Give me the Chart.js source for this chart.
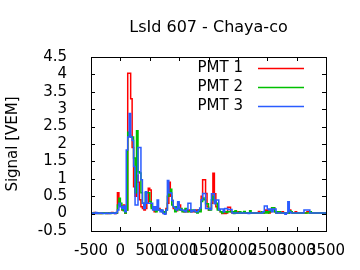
<!DOCTYPE html>
<html lang="en">
<head>
  <meta charset="UTF-8">
  <title>LsId 607 - Chaya-co</title>
  <script src="https://cdn.jsdelivr.net/npm/chart.js"></script>
  <style>
    html, body { margin: 0; padding: 0; background: #ffffff; }
    #wrap { width: 360px; height: 270px; }
  </style>
</head>
<body>
  <div id="wrap"><canvas id="traceChart" width="360" height="270"></canvas></div>

  <script>
    // trace binning (ns)
    const binStart = -500;
    const binWidth = 25;

    // signal per bin [VEM]
    const pmt1 = [
      0.02, 0, 0.01, 0.03, 0, 0.02, 0.01, 0, 0.02, 0.01,
      0.01, 0.02, 0, 0.02, 0.01, 0.03, 0.01, 0, 0.02, 0.6,
      0.3, 0.22, 0.1, 0.25, 0.02, 0.1, 4.03, 4.03, 3.3, 1.9,
      0.77, 0.5, 1.1, 0.9, 0.4, 0.2, 0.15, 0.1, 0.15, 0.3,
      0.73, 0.68, 0.2, 0.15, 0.05, 0.12, 0.1, 0.15, 0.1, 0.08,
      0.02, 0, 0.15, 0.3, 0.9, 0.5, 0.38, 0.15, 0.1, 0.08,
      0.3, 0.25, 0.1, 0.08, 0.05, 0.1, 0.05, 0.08, 0.1, 0.05,
      0.05, 0.05, 0.1, 0.08, 0.1, 0.1, 0.5, 0.97, 0.97, 0.58,
      0.2, 0.1, 0.15, 0.3, 1.16, 0.57, 0.2, 0.15, 0.1, 0.05,
      0, 0.05, 0, 0.02, 0.18, 0.18, 0.05, 0.02, 0.02, 0.02,
      0.02, 0.05, 0.02, 0.02, 0.02, 0.02, 0.02, 0.02, 0.02, 0.02,
      0.02, 0.02, 0.02, 0.02, 0.02, 0.06, 0.02, 0.02, 0.02, 0.05,
      0.1, 0.08, 0.02, 0.05, 0.17, 0.17, 0.05, 0.02, 0.02, 0.02,
      0.02, 0.05, 0.02, 0.02, 0.02, 0.02, 0.1, 0.05, 0.02, 0.02,
      0.05, 0.02, 0.02, 0.02, 0.02, 0.02, 0.02, 0.02, 0.05, 0.05,
      0.02, 0.02, 0.02, 0.02, 0.02, 0.02, 0.02, 0.02, 0.02, 0.02
    ];
    const pmt2 = [
      0, 0.01, 0.02, 0, 0.01, 0.02, 0, 0.01, 0, 0.02,
      0.02, 0, 0.01, 0.02, 0, 0.01, 0.02, 0.01, 0.02, 0.25,
      0.44, 0.3, 0.12, 0.08, 0.02, 0.1, 2.34, 2.25, 2.2, 2.2,
      1.6, 0.6, 2.38, 1.2, 1.17, 0.6, 0.3, 0.2, 0.6, 0.6,
      0.6, 0.35, 0.15, 0.15, 0.1, 0.05, 0.15, 0.1, 0.1, 0.05,
      0.05, 0.02, 0.1, 0.5, 0.59, 0.7, 0.25, 0.2, 0.05, 0.2,
      0.15, 0.1, 0.15, 0.05, 0.05, 0.15, 0.1, 0.05, 0.05, 0.1,
      0.1, 0.08, 0.05, 0.02, 0.1, 0.05, 0.35, 0.45, 0.4, 0.28,
      0.28, 0.1, 0.1, 0.4, 0.5, 0.35, 0.3, 0.1, 0.1, 0.05,
      0.02, 0.05, 0.05, 0.03, 0.05, 0.05, 0.05, 0.05, 0, 0.08,
      0.02, 0.02, 0.05, 0.02, 0.03, 0.06, 0.02, 0.02, 0.02, 0.08,
      0.02, 0.02, 0.02, 0.02, 0.02, 0.02, 0.02, 0.05, 0.02, 0.02,
      0.05, 0.02, 0.05, 0.08, 0.17, 0.17, 0.05, 0.02, 0.05, 0.05,
      0.02, 0.02, 0.02, 0.02, 0.02, 0.02, 0.08, 0.05, 0.02, 0.02,
      0.02, 0.02, 0.02, 0.02, 0.02, 0.02, 0.02, 0.02, 0.02, 0.02,
      0.05, 0.02, 0.02, 0.02, 0.02, 0.02, 0.02, 0.02, 0.02, 0.02
    ];
    const pmt3 = [
      0.01, 0.02, 0, 0.01, 0.03, 0, 0.02, 0.01, 0.02, 0,
      0, 0.02, 0.01, 0, 0.02, 0.01, 0.02, 0, 0.03, 0.1,
      0.3, 0.2, 0.15, 0.22, 0.05, 1.83, 2.2, 2.88, 2.2, 2.1,
      1.35, 0.25, 0.25, 1.9, 1.9, 0.97, 0.3, 0.15, 0.63, 0.3,
      0.3, 0.3, 0.3, 0.1, 0.2, 0.1, 0.39, 0.1, 0.05, 0.1,
      0, -0.02, 0.1, 0.95, 0.6, 0.59, 0.38, 0.2, 0.15, 0.1,
      0.34, 0.15, 0.1, 0.1, 0.08, 0.05, 0.12, 0.3, 0.3, 0.05,
      0.08, 0.1, 0.05, 0.05, 0.1, 0.16, 0.4, 0.58, 0.58, 0.15,
      0.15, 0.15, 0.12, 0.57, 0.57, 0.28, 0.39, 0.39, 0.1, 0.13,
      0.13, 0.05, 0.15, 0.15, 0.12, 0.12, 0.12, 0.02, 0.02, 0.02,
      0.02, 0.02, 0.02, 0.02, 0.02, 0.02, 0.02, 0.02, 0, 0.02,
      0.02, 0.02, 0.02, 0.02, 0.02, 0.02, 0.02, 0.02, 0.05, 0.22,
      0.22, 0.13, 0.1, 0.13, 0.05, 0.13, 0.13, 0.02, 0.02, 0.02,
      0.02, 0.02, 0.02, -0.02, 0.02, 0.34, 0.05, 0.02, 0.02, 0.02,
      0.02, 0.02, 0.02, 0.02, 0.02, 0.02, 0.1, 0.1, 0.1, 0.1,
      0.02, 0.02, 0.02, 0.02, 0.02, 0.02, 0.02, 0.02, 0.02, 0.02
    ];

    const seriesNames = ['PMT 1', 'PMT 2', 'PMT 3'];
    const seriesColors = ['#ff0000', '#00c000', '#2a5cff'];
    const xTicks = [-500, 0, 500, 1000, 1500, 2000, 2500, 3000, 3500];
    const yTicks = [-0.5, 0, 0.5, 1, 1.5, 2, 2.5, 3, 3.5, 4, 4.5];

    const FONT = 'DejaVu Sans';

    // step points: each bin holds its value until the next bin starts
    function toSteps(values) {
      const pts = values.map((v, i) => ({ x: binStart + i * binWidth, y: v }));
      pts.push({ x: binStart + values.length * binWidth, y: values[values.length - 1] });
      return pts;
    }

    // gnuplot-like frame with inward ticks on all four sides
    const frameTicks = {
      id: 'frameTicks',
      afterDatasetsDraw(chart) {
        const { ctx, chartArea: a, scales: { x, y } } = chart;
        const len = 4;
        ctx.save();
        ctx.strokeStyle = '#000';
        ctx.lineWidth = 1;
        ctx.beginPath();
        xTicks.forEach(v => {
          const px = Math.round(x.getPixelForValue(v)) + 0.5;
          ctx.moveTo(px, a.bottom); ctx.lineTo(px, a.bottom - len);
          ctx.moveTo(px, a.top); ctx.lineTo(px, a.top + len);
        });
        yTicks.forEach(v => {
          const py = Math.round(y.getPixelForValue(v)) + 0.5;
          ctx.moveTo(a.left, py); ctx.lineTo(a.left + len, py);
          ctx.moveTo(a.right, py); ctx.lineTo(a.right - len, py);
        });
        ctx.stroke();
        ctx.strokeRect(Math.round(a.left) + 0.5, Math.round(a.top) + 0.5,
          Math.round(a.right - a.left), Math.round(a.bottom - a.top));
        ctx.restore();
      }
    };

    // title over the plot + legend in the top right corner
    const labelsPlugin = {
      id: 'labelsPlugin',
      afterDraw(chart) {
        const { ctx, chartArea: a } = chart;
        ctx.save();
        ctx.fillStyle = '#000';
        ctx.font = '16px "' + FONT + '"';
        ctx.textAlign = 'center';
        ctx.textBaseline = 'middle';
        ctx.fillText('LsId 607 - Chaya-co', (a.left + a.right) / 2, 28);

        ctx.font = '15px "' + FONT + '"';
        ctx.textAlign = 'right';
        chart.data.datasets.forEach((ds, i) => {
          const yy = a.top + 11 + i * 19;
          ctx.fillStyle = '#000';
          ctx.fillText(ds.label, a.right - 83, yy);
          ctx.strokeStyle = ds.borderColor;
          ctx.lineWidth = 1.5;
          ctx.beginPath();
          ctx.moveTo(a.right - 68, Math.round(yy) + 0.5);
          ctx.lineTo(a.right - 22, Math.round(yy) + 0.5);
          ctx.stroke();
        });
        ctx.restore();
      }
    };

    const datasets = [pmt1, pmt2, pmt3].map((vals, i) => ({
      label: seriesNames[i],
      data: toSteps(vals),
      borderColor: seriesColors[i],
      borderWidth: 1.5,
      stepped: 'after',
      pointRadius: 0,
      fill: false,
      order: 3 - i
    }));

    new Chart(document.getElementById('traceChart'), {
      type: 'line',
      data: { datasets: datasets },
      plugins: [frameTicks, labelsPlugin],
      options: {
        responsive: false,
        animation: false,
        devicePixelRatio: 1,
        layout: { padding: { top: 57, right: 34, bottom: 0, left: 0 } },
        plugins: {
          legend: { display: false },
          title: { display: false },
          tooltip: { enabled: false }
        },
        scales: {
          x: {
            type: 'linear',
            min: -500,
            max: 3500,
            grid: { display: false },
            border: { display: false },
            afterBuildTicks: s => { s.ticks = xTicks.map(v => ({ value: v })); },
            ticks: {
              autoSkip: false,
              maxRotation: 0,
              minRotation: 0,
              padding: 3,
              color: '#000',
              font: { family: FONT, size: 15 },
              callback: v => String(v)
            },
            afterFit: s => { s.height = 39; s.paddingLeft = 0; s.paddingRight = 0; }
          },
          y: {
            min: -0.5,
            max: 4.5,
            grid: { display: false },
            border: { display: false },
            afterBuildTicks: s => { s.ticks = yTicks.map(v => ({ value: v })); },
            ticks: {
              autoSkip: false,
              padding: 16,
              color: '#000',
              font: { family: FONT, size: 15 },
              callback: v => String(v)
            },
            title: {
              display: true,
              text: 'Signal [VEM]',
              color: '#000',
              font: { family: FONT, size: 15 },
              padding: { top: 4, bottom: 0 }
            },
            afterFit: s => { s.width = 91; s.paddingTop = 0; s.paddingBottom = 0; }
          }
        }
      }
    });
  </script>
</body>
</html>
